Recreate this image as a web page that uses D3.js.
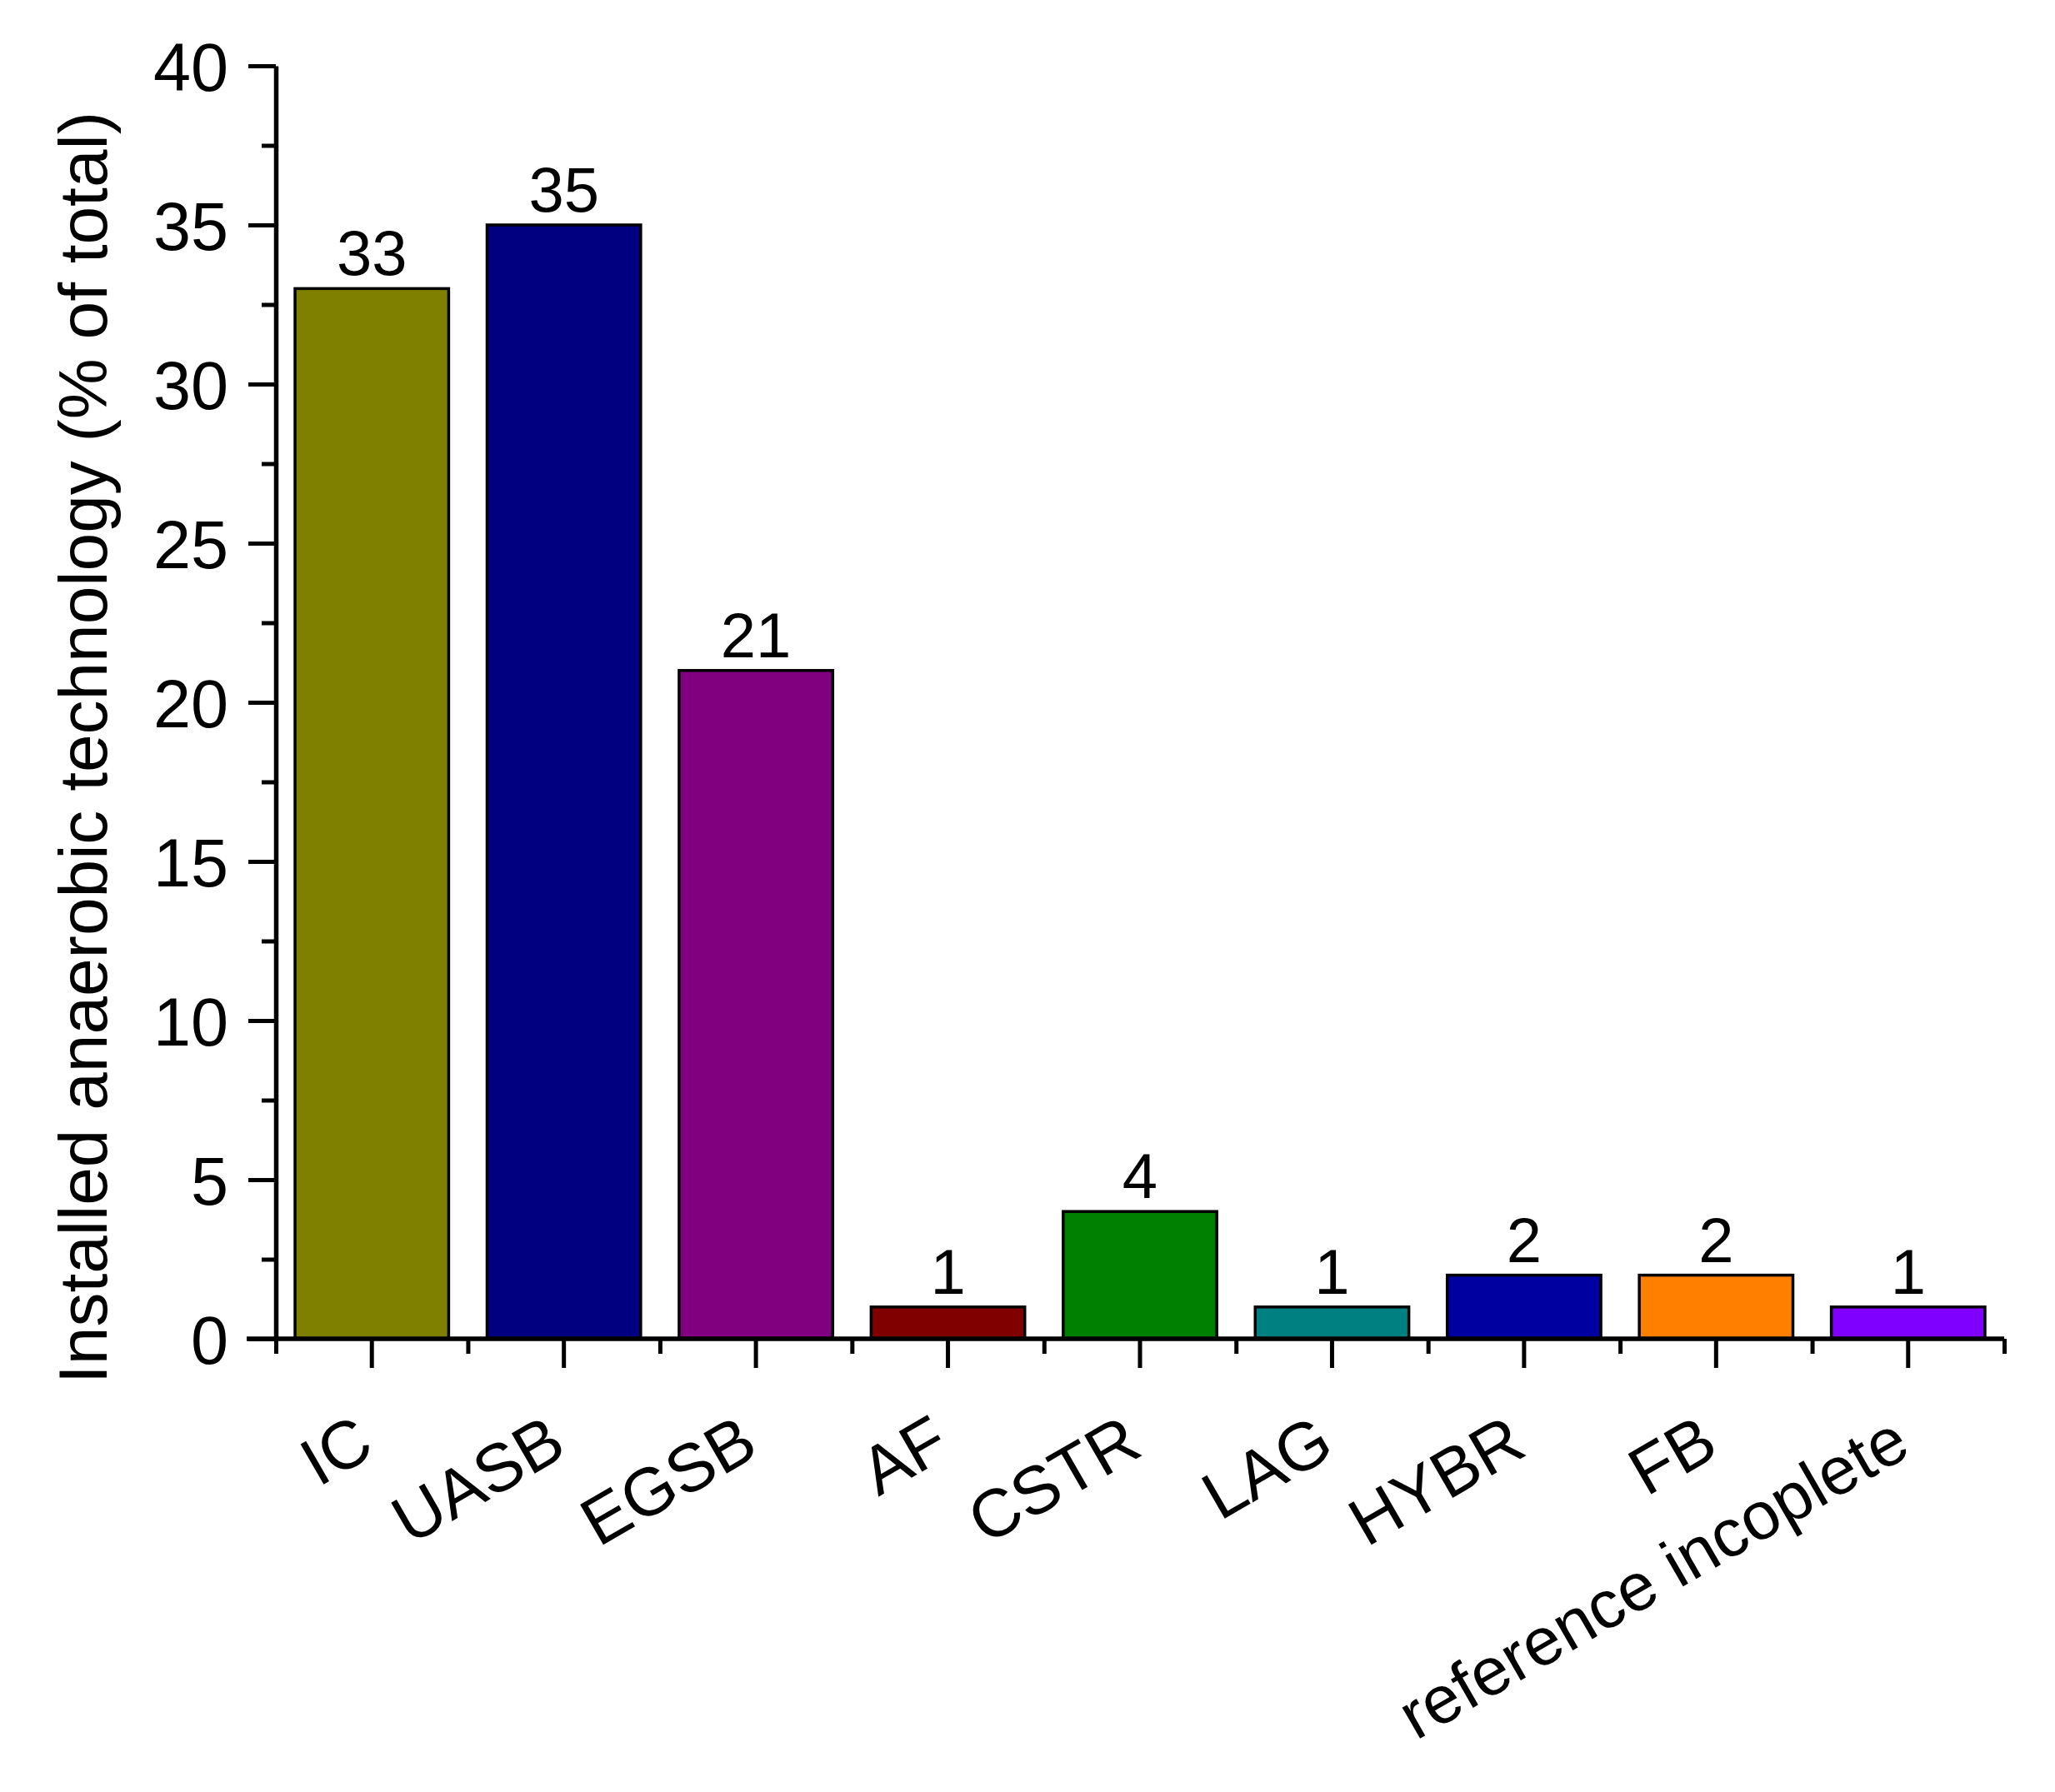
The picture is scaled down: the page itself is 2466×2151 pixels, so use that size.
<!DOCTYPE html>
<html>
<head>
<meta charset="utf-8">
<script src="https://cdn.jsdelivr.net/npm/d3@7"></script>
<style>
  body { margin: 0; background: #fff; }
  svg text { font-family: "Liberation Sans", Arial, sans-serif; fill: #000; }
</style>
</head>
<body>
<div id="chart"></div>
<script>
// chart data
const categories = ['IC', 'UASB', 'EGSB', 'AF', 'CSTR', 'LAG', 'HYBR', 'FB', 'reference incoplete'];
const values = [33, 35, 21, 1, 4, 1, 2, 2, 1];
const colors = ['#808000', '#000080', '#800080', '#800000', '#008000', '#008080', '#0000A0', '#FF8000', '#8000FF'];
const yTicks = [0, 5, 10, 15, 20, 25, 30, 35, 40];
const yTitle = 'Installed anaerobic technology (% of total)';

const width = 2466;
const height = 2151;
const plotLeft = 331, plotRight = 2405, plotTop = 79, plotBottom = 1607;

const svg = d3.select('#chart')
    .append('svg')
        .attr('width', width)
        .attr('height', height);

svg.append('rect')
    .attr('width', width)
    .attr('height', height)
    .attr('fill', '#fff');

const x = d3.scaleBand()
    .domain(categories)
    .range([plotLeft, plotRight])
    .paddingInner(0.2)
    .paddingOuter(0.1);

// band boundaries for the minor ticks
const xEdge = d3.scaleLinear()
    .domain([0, categories.length])
    .range([plotLeft, plotRight]);

const y = d3.scaleLinear()
    .domain([0, 40])
    .range([plotBottom, plotTop]);

// bars
svg.selectAll('.bar')
    .data(categories)
    .enter()
    .append('rect')
        .attr('class', 'bar')
        .attr('x', d => x(d))
        .attr('y', (d, i) => y(values[i]))
        .attr('width', x.bandwidth())
        .attr('height', (d, i) => y(0) - y(values[i]))
        .attr('fill', (d, i) => colors[i])
        .attr('stroke', '#000')
        .attr('stroke-width', 3.5);

// value labels
svg.selectAll('.val')
    .data(categories)
    .enter()
    .append('text')
        .attr('class', 'val')
        .attr('x', d => x(d) + x.bandwidth() / 2)
        .attr('y', (d, i) => y(values[i]) - 16)
        .attr('text-anchor', 'middle')
        .attr('font-size', 76)
        .text((d, i) => values[i]);

// y axis, minor then major
svg.append('g')
    .attr('transform', `translate(${plotLeft},0)`)
    .call(d3.axisLeft(y).tickValues(d3.range(2.5, 40, 5)).tickSize(17).tickSizeOuter(0).tickFormat(''))
    .call(g => g.select('.domain').remove())
    .call(g => g.selectAll('line').attr('stroke-width', 5));

const yAxis = svg.append('g')
    .attr('transform', `translate(${plotLeft},0)`)
    .call(d3.axisLeft(y).tickValues(yTicks).tickSize(33).tickSizeOuter(0).tickPadding(24));
yAxis.select('.domain').attr('stroke-width', 5.5);
yAxis.selectAll('line').attr('stroke-width', 5);
yAxis.selectAll('text')
    .attr('font-size', 81)
    .attr('font-family', '"Liberation Sans", Arial, sans-serif')
    .attr('dy', '0.36em');

// x axis line, extends past the y axis like the tick length
svg.append('line')
    .attr('x1', xEdge(0) - 35)
    .attr('x2', xEdge(categories.length))
    .attr('y1', plotBottom)
    .attr('y2', plotBottom)
    .attr('stroke', '#000')
    .attr('stroke-width', 5.5);

svg.append('g')
    .attr('transform', `translate(0,${plotBottom})`)
    .call(d3.axisBottom(xEdge).tickValues(d3.range(categories.length + 1)).tickSize(18).tickFormat(''))
    .call(g => g.select('.domain').remove())
    .call(g => g.selectAll('line').attr('stroke-width', 5));

const xAxis = svg.append('g')
    .attr('transform', `translate(0,${plotBottom})`)
    .call(d3.axisBottom(x).tickSize(35).tickSizeOuter(0));
xAxis.select('.domain').remove();
xAxis.selectAll('line').attr('stroke-width', 5);
xAxis.selectAll('text')
    .attr('font-size', 81)
    .attr('font-family', '"Liberation Sans", Arial, sans-serif')
    .attr('text-anchor', 'end')
    .attr('x', 0)
    .attr('y', 0)
    .attr('dy', null)
    .attr('transform', 'translate(6,138) rotate(-30)');

// y title
svg.append('text')
    .attr('transform', `translate(128,${(135 + 1660) / 2}) rotate(-90)`)
    .attr('text-anchor', 'middle')
    .attr('font-size', 82)
    .text(yTitle);
</script>
</body>
</html>
